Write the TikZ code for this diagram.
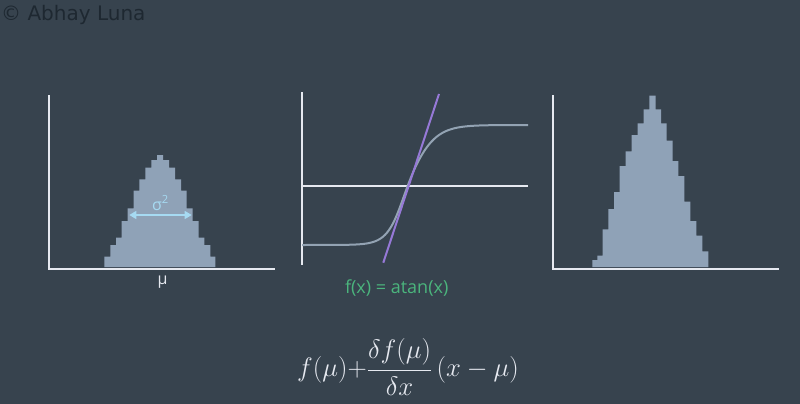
\documentclass[tikz,border=0pt]{standalone}
\usepackage{fontspec}
\usepackage{amsmath}
\usepackage{graphicx}
\usepackage{xcolor}
\usetikzlibrary{arrows.meta}
\newfontfamily\labelfont{Open Sans}
\newfontfamily\signfont{DejaVu Sans}
\definecolor{slate}{RGB}{55, 67, 78}
\definecolor{barfill}{RGB}{143, 162, 183}
\definecolor{axisline}{RGB}{230, 233, 240}
\definecolor{sigmoid}{RGB}{147, 163, 179}
\definecolor{tangentline}{RGB}{150, 121, 215}
\definecolor{spreadblue}{RGB}{166, 218, 242}
\definecolor{labelgreen}{RGB}{75, 181, 125}
\definecolor{signdark}{RGB}{30, 40, 49}

\begin{document}
\begin{tikzpicture}[
  x=1pt, y=-1pt,
  axis/.style={draw=axisline, line width=2.6pt},
  bar/.style={fill=barfill},
  curve/.style={draw=sigmoid, line width=2pt},
  tangent/.style={draw=tangentline, line width=2pt},
  spread/.style={{Triangle[length=7pt,width=8pt]}-{Triangle[length=7pt,width=8pt]}, draw=spreadblue, fill=spreadblue, line width=1.5pt},
  tag/.style={font=\labelfont\fontsize{16}{18}\selectfont, inner sep=0pt}
]
  \useasboundingbox[fill=slate] (0,0) rectangle (800,404);

  % signature
  \node[font=\signfont\fontsize{20}{22}\selectfont, text=signdark, anchor=west, inner sep=0pt] (sign) at (1,15) {© Abhay Luna};

  % left: input distribution
  \fill[bar] (104.3,267) foreach \l/\r/\t in {104.3/110.3/256.7, 110.3/116/245, 116/121.7/237.7, 121.7/127.7/221, 127.7/133.7/208.3, 133.7/139.3/190.7, 139.3/145.3/179.3, 145.3/151.3/167.7, 151.3/157/160, 157/163/155, 163/169/160, 169/175/167.7, 175/181/179.3, 181/186.7/190.7, 186.7/192.7/208.3, 192.7/198.7/221, 198.7/204.3/237.7, 204.3/210.3/245, 210.3/215.3/256.7} { -- (\l,\t) -- (\r,\t) } -- (215.3,267) -- cycle;
  \draw[axis] (49,95) -- (49,269) -- (275,269);
  \coordinate (sl) at (129.3,215);
  \coordinate (sr) at (191.7,215);
  \draw[spread] (sl) -- (sr);
  \node[tag, text=spreadblue] (sigma) at (160.5,203) {σ\textsuperscript{2}};
  \node[tag, text=axisline] (mu) at (162.7,282) {μ};

  % middle: transfer function
  \draw[axis] (302,92) -- (302,265);
  \draw[axis] (302,186) -- (528,186);
  \draw[curve] plot[domain=302:528, samples=180] (\x, {185-60*tanh((\x-408)/(22.5+3.5*tanh((\x-408)/15)))});
  \coordinate (tlo) at (383.3,262.7);
  \coordinate (thi) at (439,94);
  \draw[tangent] (tlo) -- (thi);
  \node[tag, text=labelgreen, font=\labelfont\fontsize{18}{20}\selectfont] (fx) at (396.7,288) {f(x) = atan(x)};

  % right: output distribution
  \fill[bar] (592.3,267) foreach \l/\r/\t in {592.3/597.3/260, 597.3/602.7/255.7, 602.7/608.3/229.3, 608.3/614/209, 614/619.7/192, 619.7/625.7/166, 625.7/631.7/151.3, 631.7/637.7/135, 637.7/643.7/123.3, 643.7/649.3/109.3, 649.3/655.7/95.7, 655.7/661/109.3, 661/666.7/123.3, 666.7/672.7/140.7, 672.7/678.3/161, 678.3/684.3/176, 684.3/690.3/201.7, 690.3/696.3/221, 696.3/702.3/235.7, 702.3/708.3/251.3} { -- (\l,\t) -- (\r,\t) } -- (708.3,267) -- cycle;
  \draw[axis] (553,95) -- (553,269) -- (779,269);

  % linearisation
  \node[text=axisline, font=\fontsize{24.88}{30}\selectfont, inner sep=0pt] (taylor) at (408,367) {\scalebox{1.073}{$\displaystyle f(\mu){+}\frac{\delta f(\mu)}{\delta x}\,(x-\mu)$}};
\end{tikzpicture}
\end{document}
